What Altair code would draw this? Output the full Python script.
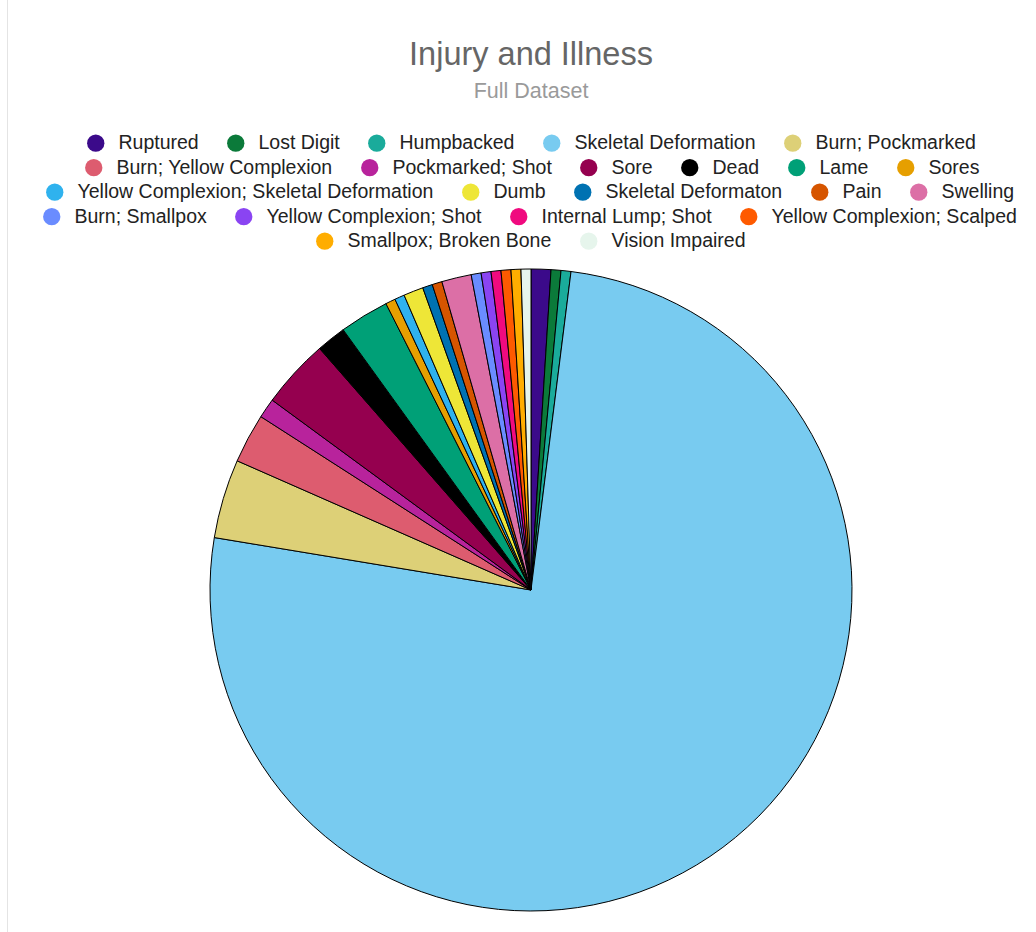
import altair as alt
import pandas as pd

categories = ["Ruptured", "Lost Digit", "Humpbacked", "Skeletal Deformation", "Burn; Pockmarked",
              "Burn; Yellow Complexion", "Pockmarked; Shot", "Sore", "Dead", "Lame", "Sores",
              "Yellow Complexion; Skeletal Deformation", "Dumb", "Skeletal Deformaton", "Pain", "Swelling",
              "Burn; Smallpox", "Yellow Complexion; Shot", "Internal Lump; Shot", "Yellow Complexion; Scalped",
              "Smallpox; Broken Bone", "Vision Impaired"]
counts = [2, 1, 1, 152, 8, 5, 2, 7, 3, 5, 1, 1, 2, 1, 1, 3, 1, 1, 1, 1, 1, 1]
colors = ["#3b0a8a", "#0b7a3a", "#1aab9b", "#78cbf0", "#ddd077", "#dd5c6f", "#b8239c", "#95004f",
          "#000000", "#00a077", "#e69f00", "#2fb2ee", "#eee637", "#0072b2", "#d65500", "#dc6fa6",
          "#6a8cff", "#8a44f2", "#f00a7f", "#fe5a00", "#ffad00", "#e6f5ec"]
legend_rows = [5, 6, 5, 4, 2]

# layout (style only)
TOP = 260
legend_x = [86, 84, 45, 42, 315]
legend_y = [133, 157.5, 182, 206.5, 231]

df = pd.DataFrame({"cat": categories, "value": counts, "idx": list(range(len(categories)))})
base = alt.Chart(df)

pie = base.mark_arc(radius=321, stroke="#000000", strokeWidth=1).encode(
    theta=alt.Theta("value:Q", stack=True),
    order=alt.Order("idx:Q", sort="ascending"),
    color=alt.Color("cat:N", scale=alt.Scale(domain=categories, range=colors), legend=None),
    x=alt.value(531),
    y=alt.value(590 - TOP),
)

border = alt.Chart(pd.DataFrame({"v": [0]})).mark_rule(color="#e4e4e4", strokeWidth=1).encode(
    x=alt.value(7.5), y=alt.value(-TOP), y2=alt.value(932 - TOP)
)

layers = [border, pie]
start = 0
for r, n in enumerate(legend_rows):
    row_cats = categories[start:start + n]
    row_cols = colors[start:start + n]
    start += n
    lyr = base.transform_filter(
        alt.FieldOneOfPredicate(field="cat", oneOf=row_cats)
    ).mark_circle(opacity=0).encode(
        color=alt.Color(
            "cat:N",
            scale=alt.Scale(domain=row_cats, range=row_cols),
            legend=alt.Legend(
                title=None, orient="none", legendX=legend_x[r], legendY=legend_y[r] - TOP,
                direction="horizontal", columns=n, symbolType="circle", symbolSize=300,
                symbolOpacity=1, symbolStrokeWidth=0, labelFont="Liberation Sans",
                labelFontSize=19.5, labelColor="#222222", labelLimit=1000, labelOffset=13,
                columnPadding=27, padding=0,
            ),
        )
    )
    layers.append(lyr)

chart = alt.layer(*layers).resolve_scale(color="independent").properties(
    width=1036,
    height=932 - TOP,
    autosize=alt.AutoSizeParams(type="none"),
    padding={"left": 0, "top": TOP, "right": 0, "bottom": 0},
    title=alt.TitleParams(
        text="Injury and Illness", subtitle="Full Dataset", anchor="middle", frame="group", dx=13,
        fontSize=32.5, font="Liberation Sans", fontWeight="normal", color="#666666",
        subtitleFontSize=21.5, subtitleFont="Liberation Sans", subtitleColor="#9a9a9a",
        subtitlePadding=10, offset=-103,
    ),
).configure(background="#ffffff", view=alt.ViewConfig(stroke=None))

chart.save("out.html", embed_options={"renderer": "svg", "actions": False})
